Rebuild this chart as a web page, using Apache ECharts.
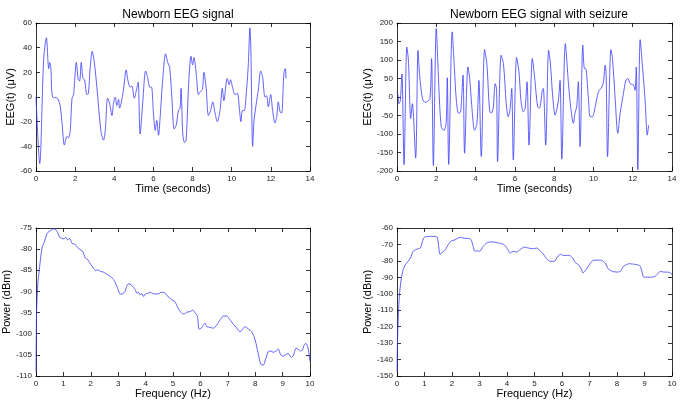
<!DOCTYPE html>
<html><head><meta charset="utf-8">
<script src="https://cdn.jsdelivr.net/npm/echarts/dist/echarts.min.js"></script>
<style>html,body{margin:0;padding:0;background:#fff}#c{width:685px;height:405px}</style>
</head><body><div id="c"></div>
<script>
// Newborn EEG signal (time in s, value in µV)
const eegTime = [0,0.19,0.39,0.53,0.65,0.70,0.76,0.85,1.1,1.24,1.33,1.45,1.58,1.66,1.75,1.84,1.92,2.06,2.16,2.23,2.31,2.4,2.48,2.6,2.68,2.77,2.87,2.98,3.11,3.32,3.45,3.54,3.66,3.76,3.88,3.96,4.05,4.13,4.22,4.27,4.35,4.47,4.61,4.69,4.81,4.9,5.02,5.15,5.22,5.32,5.46,5.6,5.7,5.82,5.9,6.0,6.09,6.17,6.26,6.34,6.46,6.62,6.73,6.83,6.94,7.06,7.16,7.28,7.36,7.41,7.5,7.59,7.67,7.81,7.92,8.0,8.07,8.18,8.3,8.38,8.5,8.58,8.69,8.81,8.92,9.03,9.15,9.26,9.4,9.52,9.6,9.77,9.87,9.94,10.04,10.17,10.29,10.39,10.47,10.55,10.64,10.76,10.85,10.93,10.98,11.07,11.14,11.24,11.36,11.48,11.58,11.7,11.78,11.87,11.99,12.09,12.21,12.3,12.38,12.47,12.55,12.67,12.74,12.77];
const eegValue = [0,-54,30,48,23,28,23,0,-1,-8,-21,-39,-32,-33,-27,-1,2,28,14,13,28,15,14,2,3,24,37,28,8,-28,-35,-27,-1,-5,-15,-5,0,-7,-2,-9,-5,6,22,14,8,9,-1,7,12,-30,-3,21,16,8,8,-13,-27,-19,-31,-17,11,35,28,24,0,-26,-23,-11,-9,7,-30,-37,-35,14,33,26,32,20,2,4,6,20,8,-15,-11,-4,-13,-20,-11,7,-3,15,10,14,8,2,3,-9,-20,-11,-11,6,27,56,38,-40,-19,-7,6,21,16,0,1,-8,2,-11,-21,-16,-4,-12,-13,20,23,15];

// Newborn EEG signal with seizure
const seizTime = [0,0.05,0.1,0.17,0.25,0.36,0.5,0.58,0.7,0.78,0.95,1.07,1.15,1.3,1.45,1.55,1.68,1.76,1.85,2.0,2.12,2.25,2.39,2.5,2.56,2.63,2.81,2.92,3.02,3.14,3.24,3.36,3.44,3.61,3.7,3.8,3.95,4.07,4.17,4.29,4.46,4.58,4.71,4.8,4.9,5.0,5.07,5.12,5.3,5.42,5.56,5.66,5.75,5.84,5.92,6.09,6.21,6.31,6.43,6.52,6.62,6.72,6.89,7.02,7.16,7.25,7.4,7.45,7.57,7.72,7.81,7.93,8.05,8.13,8.22,8.3,8.39,8.57,8.73,8.86,8.98,9.06,9.15,9.23,9.32,9.46,9.54,9.6,9.75,9.83,9.95,10.09,10.26,10.43,10.51,10.6,10.65,10.72,10.89,10.97,11.11,11.24,11.36,11.53,11.65,11.75,11.87,12.04,12.12,12.18,12.26,12.38,12.5,12.64,12.74,12.81];
const seizValue = [12,5,-18,-10,62,-183,135,100,-58,-18,-165,126,60,-5,-15,-12,-3,104,-185,185,40,-80,-90,-70,52,-182,176,80,-8,-44,-40,59,-152,81,50,-20,-90,-72,45,-161,128,86,-35,-44,-28,36,20,-175,113,90,-17,-53,-35,23,-170,107,68,-9,-40,-31,41,-130,104,45,-27,-30,18,23,-130,126,90,0,-49,-35,-8,45,-168,144,36,-35,-71,-44,-26,41,-134,140,77,77,-8,-53,-53,-26,14,27,41,86,54,-161,128,104,-8,-98,-44,10,45,50,36,32,18,81,-197,155,81,-17,-103,-76];

// Power spectrum, normal (Hz, dBm)
const psdFreq = [0,0.02,0.06,0.14,0.22,0.31,0.41,0.53,0.63,0.72,0.8,0.86,0.94,1.02,1.09,1.15,1.23,1.31,1.4,1.49,1.58,1.7,1.8,1.89,2.01,2.1,2.17,2.25,2.36,2.45,2.53,2.63,2.72,2.81,2.9,3.0,3.06,3.15,3.25,3.31,3.37,3.47,3.56,3.62,3.68,3.74,3.8,3.86,3.93,3.99,4.07,4.17,4.26,4.36,4.46,4.54,4.64,4.73,4.81,4.91,5.0,5.07,5.16,5.26,5.35,5.42,5.5,5.62,5.72,5.81,5.89,5.95,6.03,6.11,6.17,6.23,6.35,6.48,6.6,6.72,6.84,6.96,7.08,7.2,7.33,7.45,7.54,7.63,7.75,7.87,7.96,8.03,8.12,8.2,8.3,8.39,8.48,8.57,8.66,8.76,8.84,8.93,9.03,9.12,9.21,9.31,9.39,9.49,9.57,9.66,9.73,9.79,9.85,9.9,9.95,10.0];
const psdPower = [-109,-95,-88.8,-83.7,-79.7,-78.2,-76.2,-75.6,-75.2,-75.4,-76.2,-77.2,-77.4,-77.6,-77.2,-77.8,-77.5,-78.6,-78.8,-79.3,-80,-80.5,-82.1,-82.5,-83.7,-84.5,-85.1,-84.9,-85.3,-85.4,-85.7,-86.1,-86.5,-87,-88,-89.6,-90.6,-90.6,-90,-88.8,-88.2,-88.4,-89.1,-89.6,-90.4,-90.2,-90.8,-90.5,-91.2,-90.6,-90.5,-90.2,-90.5,-90.6,-90.6,-90.3,-90.2,-90.5,-91.2,-91.7,-92.1,-92.4,-93.6,-94.7,-95.3,-95.3,-94.9,-94.8,-94.4,-95.1,-95.9,-98.9,-98.7,-97.9,-97.5,-98.3,-98.5,-98.7,-97.9,-96.7,-95.8,-95.8,-96.7,-97.7,-98.7,-99.6,-98.9,-98.3,-98.9,-99.5,-100.7,-102.3,-105,-107.2,-107.4,-105.8,-104.2,-104.1,-104.4,-104.1,-103.6,-105,-105.3,-104.9,-104.7,-105.6,-105.2,-103.4,-103.7,-104.1,-103.8,-102.6,-102.3,-102.8,-104.1,-106.6];

// Power spectrum, seizure (Hz, dBm)
const psdSeizFreq = [0,0.02,0.06,0.1,0.16,0.22,0.3,0.4,0.49,0.58,0.68,0.77,0.85,0.91,0.97,1.04,1.19,1.34,1.46,1.51,1.56,1.62,1.74,1.86,1.98,2.1,2.22,2.31,2.41,2.53,2.65,2.71,2.77,2.83,2.92,3.01,3.13,3.26,3.38,3.5,3.62,3.74,3.86,3.96,4.05,4.11,4.23,4.35,4.47,4.63,4.78,4.96,5.08,5.2,5.32,5.44,5.57,5.72,5.81,5.93,6.05,6.17,6.29,6.39,6.48,6.6,6.7,6.76,6.82,6.9,6.99,7.11,7.27,7.45,7.57,7.69,7.84,8.0,8.12,8.2,8.32,8.45,8.6,8.76,8.85,8.91,8.97,9.09,9.25,9.39,9.49,9.58,9.7,9.82,9.94,10.0];
const psdSeizPower = [-147.4,-127,-108.8,-98.6,-90.5,-85.4,-82.4,-80.3,-78.3,-74.2,-73.2,-72.6,-72.2,-69.1,-66.1,-65.3,-65.1,-65.1,-65.5,-70.2,-75.9,-75.2,-73.6,-70.2,-67.7,-67.3,-66.1,-65.7,-66.1,-66.3,-66.5,-67.7,-71.2,-74.2,-73.8,-74.2,-71.2,-69.1,-68.5,-68.5,-68.9,-69.3,-69.8,-71.2,-73.8,-75.2,-74.2,-74.6,-73.2,-71.6,-72.2,-72.6,-72.2,-73.8,-75.9,-78.7,-80.3,-80.3,-78.3,-75.9,-76.7,-76.7,-76.8,-78.3,-80.9,-82.4,-84.8,-87.4,-86.4,-84.8,-82.4,-79.9,-79.5,-79.7,-81.3,-85,-86.4,-86.8,-86.4,-84,-82.4,-81.7,-82,-82.4,-83.4,-86.8,-89.9,-89.9,-89.9,-89.3,-87.6,-86.4,-86.8,-86.8,-87.2,-88.5];

const titles = ['Newborn EEG signal', 'Newborn EEG signal with seizure'];

const FONT = '"Liberation Sans", Arial, Helvetica, sans-serif';
const zip = (a, b) => a.map((v, i) => [v, b[i]]);

const grids = [
  {left: 36, top: 23, width: 274, height: 148},
  {left: 397, top: 23, width: 275, height: 148},
  {left: 36, top: 228, width: 274, height: 148},
  {left: 397, top: 228, width: 275, height: 148}
];
const panels = [
  {x: [0, 14, 2], y: [-60, 60, 20], xn: 'Time (seconds)', yn: 'EEG(t) (\u03bcV)', yGap: 19, xGap: 11, smooth: 0.3, data: zip(eegTime, eegValue)},
  {x: [0, 14, 2], y: [-200, 200, 50], xn: 'Time (seconds)', yn: 'EEG(t) (\u03bcV)', yGap: 23, xGap: 11, smooth: 0.3, data: zip(seizTime, seizValue)},
  {x: [0, 10, 1], y: [-110, -75, 5], xn: 'Frequency (Hz)', yn: 'Power (dBm)', yGap: 21, xGap: 12, smooth: 0.2, data: zip(psdFreq, psdPower)},
  {x: [0, 10, 1], y: [-150, -60, 10], xn: 'Frequency (Hz)', yn: 'Power (dBm)', yGap: 23, xGap: 12, smooth: 0.2, data: zip(psdSeizFreq, psdSeizPower)}
];

const line = {color: '#000', width: 0.8};
const xAxis = [], yAxis = [], series = [];
panels.forEach((p, i) => {
  const base = {
    type: 'value', gridIndex: i,
    axisLine: {show: true, onZero: false, lineStyle: line},
    axisTick: {show: true, inside: true, length: 4, lineStyle: line},
    splitLine: {show: false}
  };
  const lbl = {fontSize: 8, color: '#222', fontFamily: FONT, margin: 4};
  xAxis.push(Object.assign({}, base, {
    position: 'bottom', min: p.x[0], max: p.x[1], interval: p.x[2],
    axisLabel: lbl, name: p.xn, nameLocation: 'middle', nameGap: p.xGap,
    nameTextStyle: {fontSize: 11, color: '#000', fontFamily: FONT, verticalAlign: 'top'}
  }));
  xAxis.push(Object.assign({}, base, {
    position: 'top', min: p.x[0], max: p.x[1], interval: p.x[2], axisLabel: {show: false}
  }));
  yAxis.push(Object.assign({}, base, {
    position: 'left', min: p.y[0], max: p.y[1], interval: p.y[2],
    axisLabel: lbl, name: p.yn, nameLocation: 'middle', nameGap: p.yGap,
    nameTextStyle: {fontSize: 11, color: '#000', fontFamily: FONT}
  }));
  yAxis.push(Object.assign({}, base, {
    position: 'right', min: p.y[0], max: p.y[1], interval: p.y[2], axisLabel: {show: false}
  }));
  series.push({
    type: 'line', xAxisIndex: 2 * i, yAxisIndex: 2 * i, data: p.data,
    showSymbol: false, symbol: 'none', smooth: p.smooth,
    lineStyle: {color: '#3a3aff', width: 0.8}
  });
});

const chart = echarts.init(document.getElementById('c'), null, {renderer: 'canvas'});
chart.setOption({
  animation: false,
  backgroundColor: '#fff',
  title: [
    {text: titles[0], left: 173, top: 4, textAlign: 'center', textStyle: {fontSize: 12, fontWeight: 'normal', color: '#000', fontFamily: FONT}},
    {text: titles[1], left: 534, top: 4, textAlign: 'center', textStyle: {fontSize: 12, fontWeight: 'normal', color: '#000', fontFamily: FONT}}
  ],
  grid: grids,
  xAxis: xAxis,
  yAxis: yAxis,
  series: series
});
</script>
</body></html>
